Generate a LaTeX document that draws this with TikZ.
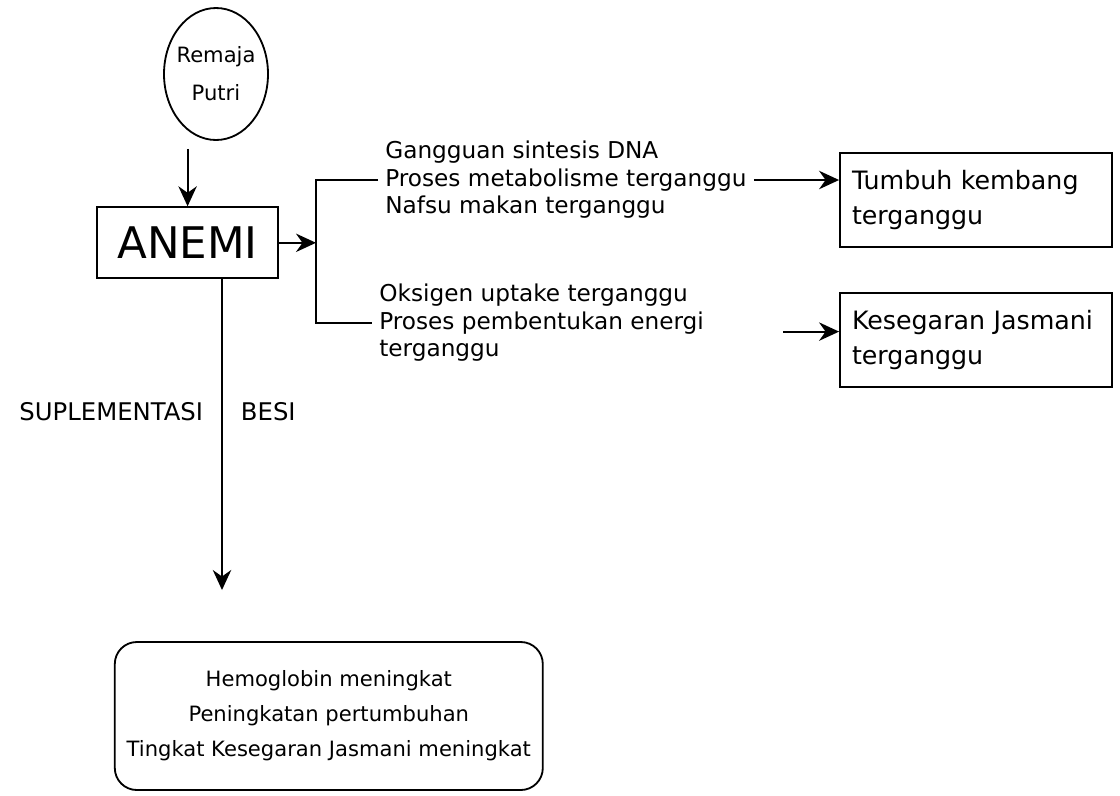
\documentclass[tikz,border=0pt]{standalone}
\usepackage{fontspec}
\setmainfont{DejaVu Sans}
\usetikzlibrary{positioning,calc,shapes.geometric,arrows.meta}
\tikzset{
  kotak/.style={draw, line width=1.3pt, inner xsep=0.3cm, text width=6.2cm, minimum height=2.35cm, align=left, font=\fontsize{18}{25}\selectfont},
  teks/.style={anchor=west, inner xsep=5pt, inner ysep=4pt, align=left, font=\fontsize{16.5}{19.5}\selectfont},
  tulisan/.style={font=\fontsize{17.3}{19}\selectfont},
  panah/.style={line width=1.4pt, -{Stealth[length=0.5cm,width=0.46cm]}},
  garis/.style={line width=1.4pt},
}

\begin{document}
\begin{tikzpicture}
  \useasboundingbox (0,0) rectangle (28,-19.875);
  % ------------------------------------------------------------ remaja putri -> anemi
  \node[draw, ellipse, line width=1.3pt, minimum width=2.6cm, minimum height=3.3cm, label={[align=center, font=\fontsize{15}{27}\selectfont]center:{Remaja\\Putri}}] (remaja) at (5.4,-1.85) {};
  \node[draw, line width=1.3pt, minimum width=4.53cm, minimum height=1.78cm, font=\fontsize{31}{32}\selectfont] (anemi) at (4.69,-6.07) {ANEMI};
  \draw[panah] ([yshift=-0.2cm]remaja.south -| anemi.north) -- (anemi.north);
  % ------------------------------------------------------------ akibat anemi
  \coordinate (brk) at (7.9,-6.1);
  \node[teks] (gangguan) at (9.45,-4.5) {Gangguan sintesis DNA\\Proses metabolisme terganggu\\Nafsu makan terganggu};
  \node[teks] (oksigen) at (9.3,-8.07) {Oksigen uptake terganggu\\Proses pembentukan energi\\terganggu};
  \draw[panah] (anemi.east) -- (anemi.east -| brk);
  \draw[garis] (gangguan.west) -| (brk) |- (oksigen.west);
  \node[kotak] (tumbuh) at (24.4,-5.0) {Tumbuh kembang\\terganggu};
  \node[kotak] (kesegaran) at (24.4,-8.5) {Kesegaran Jasmani\\terganggu};
  \draw[panah] (gangguan.east) -- (gangguan.east -| tumbuh.west);
  \draw[panah] ([shift={(1.8,-0.22)}]oksigen.east) -- ([yshift=-0.22cm]oksigen.east -| kesegaran.west);
  % ------------------------------------------------------------ suplementasi besi
  \coordinate (ujung) at (5.55,-14.75);
  \draw[panah] (anemi.south -| ujung) -- (ujung);
  \node[tulisan, anchor=east] (suplemen) at (5.2,-10.3) {SUPLEMENTASI};
  \node[tulisan, anchor=west] (besi) at (5.9,-10.3) {BESI};
  \node[draw, line width=1.3pt, rounded corners=0.55cm, minimum width=10.7cm, minimum height=3.7cm, align=center, font=\fontsize{15}{25}\selectfont] (hasil) at (8.22,-17.9) {Hemoglobin meningkat\\Peningkatan pertumbuhan\\Tingkat Kesegaran Jasmani meningkat};
\end{tikzpicture}
\end{document}
